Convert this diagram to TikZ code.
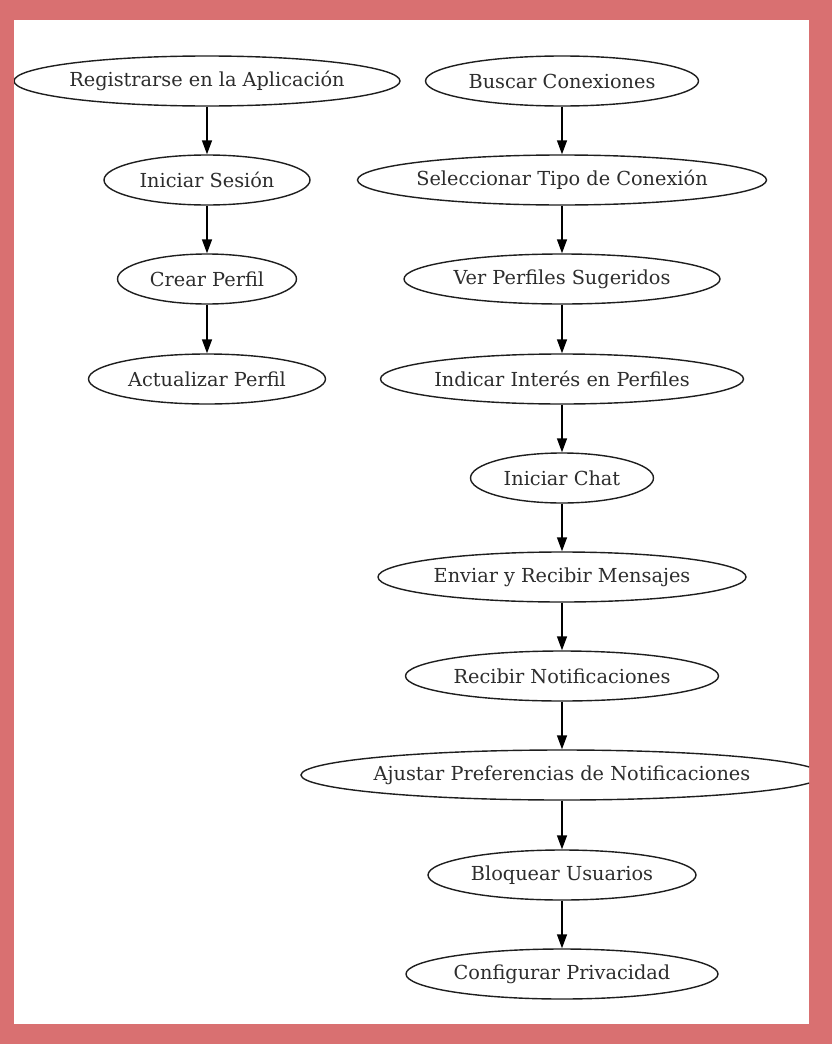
\documentclass[tikz,border=0pt]{standalone}
\usepackage{fontspec}
\setmainfont{DejaVu Serif}
\usetikzlibrary{arrows.meta,shapes.geometric}
\definecolor{framepink}{RGB}{217,112,113}
\definecolor{inkgray}{RGB}{30,30,30}
\definecolor{textgray}{RGB}{45,45,45}
\tikzset{
  stepnode/.style={ellipse, draw=inkgray, line width=1.4pt, fill=white,
    inner sep=0pt, minimum height=50pt, text=textgray,
    font=\fontsize{19.3}{23}\selectfont},
  flowarrow/.style={draw=black, line width=1.4pt,
    -{Triangle[length=14pt,width=10pt]}}
}
\newcommand{\zb}[1]{\makebox[0pt]{#1}}
\begin{document}
\begin{tikzpicture}[x=1pt,y=-1pt]
\useasboundingbox (0,0) rectangle (832,1044);
\fill[framepink] (0,0) rectangle (832,1044);
\fill[white] (14,20) rectangle (809,1024);
\begin{scope}
\clip (14,20) rectangle (809,1024);
% left column
\node[stepnode, minimum width=386pt] (l1) at (207,81) {\zb{Registrarse en la Aplicación}};
\node[stepnode, minimum width=206pt] (l2) at (207,180) {\zb{Iniciar Sesión}};
\node[stepnode, minimum width=179pt] (l3) at (207,279) {\zb{Crear Perfil}};
\node[stepnode, minimum width=237pt] (l4) at (207,379) {\zb{Actualizar Perfil}};
% right column
\node[stepnode, minimum width=273pt] (r1) at (562,81) {\zb{Buscar Conexiones}};
\node[stepnode, minimum width=409pt] (r2) at (562,180) {\zb{Seleccionar Tipo de Conexión}};
\node[stepnode, minimum width=316pt] (r3) at (562,279) {\zb{Ver Perfiles Sugeridos}};
\node[stepnode, minimum width=363pt] (r4) at (562,379) {\zb{Indicar Interés en Perfiles}};
\node[stepnode, minimum width=183pt] (r5) at (562,478) {\zb{Iniciar Chat}};
\node[stepnode, minimum width=368pt] (r6) at (562,577) {\zb{Enviar y Recibir Mensajes}};
\node[stepnode, minimum width=313pt] (r7) at (562,676) {\zb{Recibir Notificaciones}};
\node[stepnode, minimum width=522pt] (r8) at (562,775) {\zb{Ajustar Preferencias de Notificaciones}};
\node[stepnode, minimum width=268pt] (r9) at (562,875) {\zb{Bloquear Usuarios}};
\node[stepnode, minimum width=312pt] (r10) at (562,974) {\zb{Configurar Privacidad}};
% connectors
\draw[flowarrow] (l1) -- (l2);
\draw[flowarrow] (l2) -- (l3);
\draw[flowarrow] (l3) -- (l4);
\draw[flowarrow] (r1) -- (r2);
\draw[flowarrow] (r2) -- (r3);
\draw[flowarrow] (r3) -- (r4);
\draw[flowarrow] (r4) -- (r5);
\draw[flowarrow] (r5) -- (r6);
\draw[flowarrow] (r6) -- (r7);
\draw[flowarrow] (r7) -- (r8);
\draw[flowarrow] (r8) -- (r9);
\draw[flowarrow] (r9) -- (r10);
\end{scope}
\end{tikzpicture}
\end{document}
